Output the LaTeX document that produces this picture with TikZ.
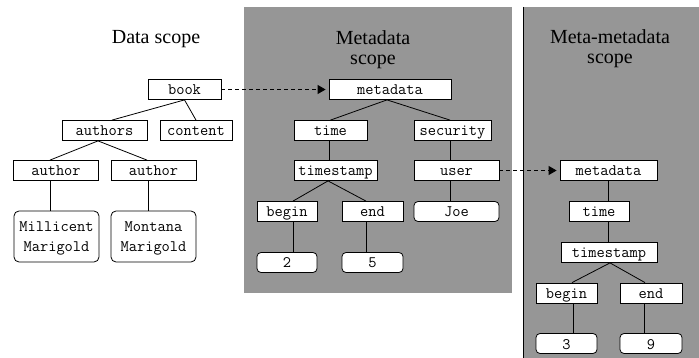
\documentclass[tikz,border=0pt]{standalone}
\usepackage{fontspec}
\setmainfont{Liberation Serif}
\usetikzlibrary{arrows.meta}
\definecolor{panel}{RGB}{150,150,150}
\begin{document}
\begin{tikzpicture}[x=1pt,y=-1pt,
 box/.style={draw=black, fill=white, line width=0.8pt, inner sep=0pt,
   font=\ttfamily\fontsize{16}{20}\selectfont, text height=13pt, text depth=2pt,
   minimum height=20pt},
 leaf/.style={box, rounded corners=4pt},
 leaftwo/.style={draw=black, fill=white, line width=0.8pt, inner sep=0pt,
   font=\ttfamily\fontsize{16}{20}\selectfont, align=center, rounded corners=5pt,
   minimum height=51pt},
 edge/.style={draw=black, line width=0.8pt},
 link/.style={draw=black, line width=0.8pt, dash pattern=on 4pt off 3pt,
   -{Triangle[length=8pt,width=9pt]}, shorten >=3pt},
 title/.style={font=\fontsize{20}{20}\selectfont, align=center, inner sep=0pt}]
\useasboundingbox (0,0) rectangle (699,358);
\fill[panel] (244,7) rectangle (512,293);
\fill[panel] (523,7) rectangle (699,358);
\draw[line width=1pt] (523,7) -- (523,358);

\node[title, anchor=base] (t1) at (156,44) {Data scope};
\node[title] (t2) at (373,50) {Metadata\\scope};
\node[title] (t3) at (610,48.5) {Meta-metadata\\scope};

% data scope
\node[box, minimum width=73pt] (book) at (184.5,89.5) {book};
\node[box, minimum width=85pt] (authors) at (104.5,130.5) {authors};
\node[box, minimum width=72pt] (content) at (196,130.5) {content};
\node[box, minimum width=85pt] (author1) at (56,170.5) {author};
\node[box, minimum width=85pt] (author2) at (153.5,170.5) {author};
\node[leaftwo, minimum width=85pt] (mill) at (56.5,236.5) {\rule{0pt}{13pt}Millicent\\Marigold\rule[-2pt]{0pt}{2pt}};
\node[leaftwo, minimum width=85pt] (mont) at (153.5,236.5) {\rule{0pt}{13pt}Montana\\Marigold\rule[-2pt]{0pt}{2pt}};

% metadata scope
\node[box, minimum width=122pt] (meta) at (390,89.5) {metadata};
\node[box, minimum width=73pt] (time) at (330.5,130.5) {time};
\node[box, minimum width=77pt] (security) at (452.5,130.5) {security};
\node[box, minimum width=83pt] (timestamp) at (335.5,170.5) {timestamp};
\node[box, minimum width=85pt] (user) at (456.5,170.5) {user};
\node[box, minimum width=60pt] (begin) at (287,211.5) {begin};
\node[box, minimum width=61pt] (end) at (372.5,211.5) {end};
\node[leaf, minimum width=85pt] (joe) at (456.5,211.5) {Joe};
\node[leaf, minimum width=60pt] (two) at (287,262.5) {2};
\node[leaf, minimum width=61pt] (five) at (372.5,262.5) {5};

% meta-metadata scope
\node[box, minimum width=97pt] (meta2) at (608.5,170.5) {metadata};
\node[box, minimum width=60pt] (time2) at (599,211.5) {time};
\node[box, minimum width=96pt] (timestamp2) at (609,252.5) {timestamp};
\node[box, minimum width=61pt] (begin2) at (566.5,293) {begin};
\node[box, minimum width=62pt] (end2) at (651,293) {end};
\node[leaf, minimum width=61pt] (three) at (566.5,343.5) {3};
\node[leaf, minimum width=62pt] (nine) at (651,343.5) {9};

% tree edges
\draw[edge] (book.south) -- ([xshift=7.5pt]authors.north);
\draw[edge] (book.south) -- (content.north);
\draw[edge] ([xshift=-6.5pt]authors.south) -- ([xshift=-6pt]author1.north);
\draw[edge] ([xshift=-6.5pt]authors.south) -- ([xshift=-6.5pt]author2.north);
\draw[edge] ([xshift=-6pt]author1.south) -- ([xshift=-6.5pt]mill.north);
\draw[edge] ([xshift=-5.5pt]author2.south) -- ([xshift=-5.5pt]mont.north);

\draw[edge] ([xshift=-3pt]meta.south) -- (time.north);
\draw[edge] ([xshift=-3pt]meta.south) -- ([xshift=-2.5pt]security.north);
\draw[edge] ([xshift=-1.5pt]time.south) -- ([xshift=-6.5pt]timestamp.north);
\draw[edge] ([xshift=-2.5pt]security.south) -- ([xshift=-6.5pt]user.north);
\draw[edge] ([xshift=-7.5pt]timestamp.south) -- ([xshift=6pt]begin.north);
\draw[edge] ([xshift=-7.5pt]timestamp.south) -- ([xshift=-6.5pt]end.north);
\draw[edge] ([xshift=6pt]begin.south) -- ([xshift=6pt]two.north);
\draw[edge] ([xshift=-6.5pt]end.south) -- ([xshift=-6.5pt]five.north);
\draw[edge] ([xshift=-6pt]user.south) -- ([xshift=-6pt]joe.north);

\draw[edge] ([xshift=-0.5pt]meta2.south) -- ([xshift=9pt]time2.north);
\draw[edge] ([xshift=9pt]time2.south) -- ([xshift=-1pt]timestamp2.north);
\draw[edge] ([xshift=1pt]timestamp2.south) -- ([xshift=5.5pt]begin2.north);
\draw[edge] ([xshift=1pt]timestamp2.south) -- ([xshift=-6pt]end2.north);
\draw[edge] ([xshift=6.5pt]begin2.south) -- ([xshift=6.5pt]three.north);
\draw[edge] ([xshift=-7pt]end2.south) -- ([xshift=-7pt]nine.north);

% scope links
\draw[link] (book.east) -- (meta.west);
\draw[link] (user.east) -- (meta2.west);
\end{tikzpicture}
\end{document}
